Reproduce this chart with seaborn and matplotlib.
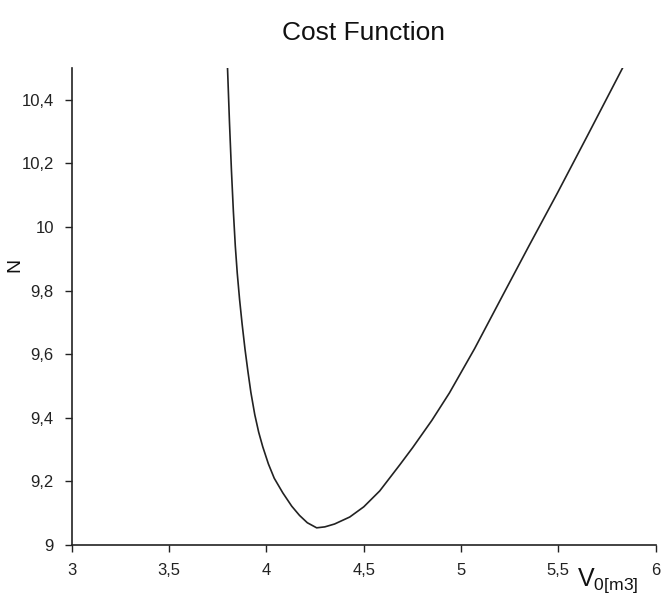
import matplotlib
matplotlib.use("Agg")
import matplotlib.pyplot as plt
import seaborn as sns
import pandas as pd

# Data
v0 = [3.800, 3.810, 3.820, 3.830, 3.840, 3.850, 3.862, 3.875, 3.890, 3.905, 3.920,
      3.940, 3.960, 3.981, 4.010, 4.040, 4.084, 4.130, 4.170, 4.210, 4.258, 4.300,
      4.350, 4.428, 4.500, 4.582, 4.685, 4.751, 4.850, 4.940, 5.070, 5.214, 5.350,
      5.496, 5.650, 5.840]
cost = [10.50, 10.33, 10.18, 10.05, 9.94, 9.855, 9.772, 9.695, 9.615, 9.545, 9.48,
        9.41, 9.355, 9.309, 9.255, 9.21, 9.164, 9.122, 9.093, 9.070, 9.054, 9.057,
        9.066, 9.088, 9.120, 9.170, 9.252, 9.306, 9.392, 9.478, 9.618, 9.785, 9.942,
        10.108, 10.288, 10.512]

xticks = [3, 3.5, 4, 4.5, 5, 5.5, 6]
xticklabels = ["3", "3,5", "4", "4,5", "5", "5,5", "6"]
yticks = [9, 9.2, 9.4, 9.6, 9.8, 10, 10.2, 10.4]
yticklabels = ["9", "9,2", "9,4", "9,6", "9,8", "10", "10,2", "10,4"]

sns.set_theme(style="white")
plt.rcParams["font.family"] = ["Liberation Sans Narrow", "Liberation Sans", "DejaVu Sans"]

df = pd.DataFrame({"V0": v0, "N": cost})

fig = plt.figure(figsize=(6.65, 5.94), dpi=100)
ax = fig.add_axes([0.108, 0.0825, 0.878, 0.803])
sns.lineplot(data=df, x="V0", y="N", ax=ax, color="#222222", linewidth=1.2, sort=False)

ax.set_xlim(3, 6)
ax.set_ylim(9, 10.5)
ax.set_xticks(xticks)
ax.set_xticklabels(xticklabels)
ax.set_yticks(yticks)
ax.set_yticklabels(yticklabels)
ax.tick_params(axis="both", which="major", direction="out", length=5, width=1,
               color="#222222", labelsize=12, labelcolor="#222222", bottom=True, left=True, pad=8)
for s in ["top", "right"]:
    ax.spines[s].set_visible(False)
for s in ["left", "bottom"]:
    ax.spines[s].set_color("#222222")
    ax.spines[s].set_linewidth(1.2)

ax.set_xlabel("")
ax.set_ylabel("")
ax.set_title("Cost Function", fontsize=19, color="#111111", pad=20)

fig.text(0.022, 1 - 265 / 594, "N", rotation=90, fontsize=14, color="#111111",
         ha="center", va="center")
fig.text(577 / 665, 1 - 586 / 594, r"V$_{\mathregular{0[m3]}}$", fontsize=18, color="#111111",
         ha="left", va="baseline")

fig.savefig("out.png", dpi=100, facecolor="white")
